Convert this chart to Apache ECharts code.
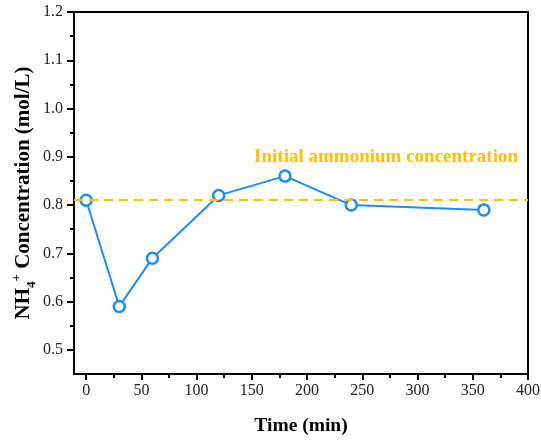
<!DOCTYPE html>
<html>
<head>
<meta charset="utf-8">
<script src="https://cdn.jsdelivr.net/npm/echarts@6/dist/echarts.min.js"></script>
<style>
  html, body { margin: 0; padding: 0; background: #fff; }
  #main { width: 541px; height: 441px; }
</style>
</head>
<body>
<div id="main"></div>
<script>
  // data
  var timeMin = [0, 30, 60, 120, 180, 240, 360];
  var nh4Conc = [0.81, 0.59, 0.69, 0.82, 0.86, 0.80, 0.79];
  var initialConc = 0.812;

  // tick positions
  var xMajorTicks = [0, 50, 100, 150, 200, 250, 300, 350, 400];
  var xMinorTicks = [25, 75, 125, 175, 225, 275, 325, 375];
  var yMajorTicks = [0.5, 0.6, 0.7, 0.8, 0.9, 1.0, 1.1, 1.2];
  var yMinorTicks = [0.55, 0.65, 0.75, 0.85, 0.95, 1.05, 1.15];

  var font = 'Liberation Serif';
  var points = timeMin.map(function (t, i) { return [t, nh4Conc[i]]; });

  var myChart = echarts.init(document.getElementById('main'));

  var option = {
    animation: false,
    grid: {
      left: 74, right: 13, top: 12, bottom: 67,
      outerBoundsMode: 'none',
      show: true, borderColor: '#000', borderWidth: 2
    },
    xAxis: [
      {
        type: 'value', position: 'bottom', min: -11, max: 400,
        name: 'Time (min)', nameLocation: 'middle', nameGap: 42, nameMoveOverlap: false,
        nameTextStyle: { fontFamily: font, fontWeight: 'bold', fontSize: 19.5, color: '#000' },
        axisLine: { onZero: false, lineStyle: { color: '#000', width: 2 } },
        axisTick: { customValues: xMajorTicks, length: 6, lineStyle: { color: '#000', width: 2 } },
        axisLabel: { customValues: xMajorTicks, fontFamily: font, fontSize: 16, color: '#222', margin: 9 },
        splitLine: { show: false }
      },
      {
        type: 'value', position: 'bottom', min: -11, max: 400,
        axisLine: { show: false, onZero: false },
        axisTick: { customValues: xMinorTicks, length: 4, lineStyle: { color: '#000', width: 2 } },
        axisLabel: { show: false },
        splitLine: { show: false }
      }
    ],
    yAxis: [
      {
        type: 'value', position: 'left', min: 0.45, max: 1.2,
        name: '{a|NH}{sub|4}{sup|+}{a| Concentration (mol/L)}',
        nameLocation: 'middle', nameGap: 36, nameRotate: 90, nameMoveOverlap: false,
        nameTextStyle: {
          color: '#000',
          rich: {
            a: { fontFamily: font, fontWeight: 'bold', fontSize: 21, color: '#000', lineHeight: 28, verticalAlign: 'middle' },
            sub: { fontFamily: font, fontWeight: 'bold', fontSize: 13, color: '#000', lineHeight: 28, verticalAlign: 'bottom' },
            sup: { fontFamily: font, fontWeight: 'bold', fontSize: 13, color: '#000', lineHeight: 28, verticalAlign: 'top' }
          }
        },
        axisLine: { onZero: false, lineStyle: { color: '#000', width: 2 } },
        axisTick: { customValues: yMajorTicks, length: 7, lineStyle: { color: '#000', width: 2 } },
        axisLabel: {
          customValues: yMajorTicks, fontFamily: font, fontSize: 16, color: '#222', margin: 11,
          formatter: function (v) { return v.toFixed(1); }
        },
        splitLine: { show: false }
      },
      {
        type: 'value', position: 'left', min: 0.45, max: 1.2,
        axisLine: { show: false, onZero: false },
        axisTick: { customValues: yMinorTicks, length: 4, lineStyle: { color: '#000', width: 2 } },
        axisLabel: { show: false },
        splitLine: { show: false }
      }
    ],
    series: [
      {
        type: 'line',
        data: points,
        symbol: 'circle', symbolSize: 11,
        lineStyle: { color: '#1a8cff', width: 2 },
        itemStyle: { color: '#fff', borderColor: '#1a8cff', borderWidth: 2.5 },
        z: 3,
        markLine: {
          silent: true, symbol: 'none',
          lineStyle: { color: '#ffc000', width: 2, type: [9, 6] },
          label: { show: false },
          data: [{ yAxis: initialConc }]
        }
      }
    ],
    graphic: [
      {
        type: 'text', right: 23, top: 148,
        style: {
          text: 'Initial ammonium concentration',
          fontFamily: font, fontWeight: 'bold', fontSize: 19, fill: '#ffc000'
        }
      }
    ]
  };

  myChart.setOption(option);
</script>
</body>
</html>
